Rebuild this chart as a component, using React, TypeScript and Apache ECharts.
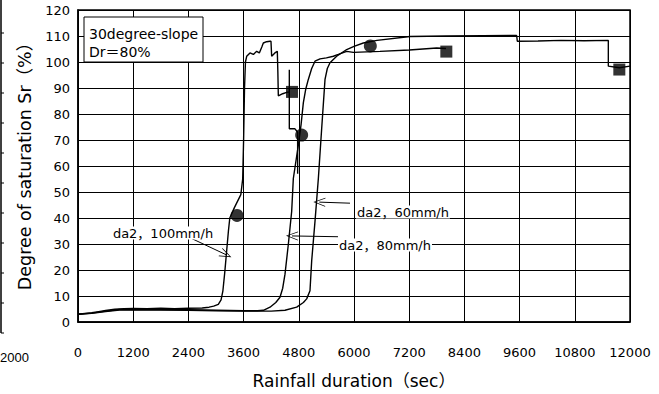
import React, { useEffect, useRef } from "react";
import * as echarts from "echarts";

const FONT = "'DejaVu Sans', 'Noto Sans CJK JP', sans-serif";

const curve100: [number, number][] = [
  [0, 3.0], [150, 3.3], [300, 3.6], [450, 4.0], [600, 4.4], [800, 4.9], [1000, 5.1], [1200, 5.2],
  [1500, 5.1], [1800, 5.3], [2100, 5.1], [2400, 5.3], [2700, 5.4], [2850, 5.7], [2950, 6.1],
  [3050, 6.8], [3110, 8.5], [3150, 12], [3190, 19], [3230, 27], [3270, 35], [3300, 40],
  [3400, 44], [3540, 49], [3580, 55], [3600, 70], [3620, 90], [3640, 100], [3667, 102.2],
  [3739, 103.5], [3812, 102.9], [3884, 104.1], [3942, 103.5], [4000, 106], [4029, 107.3],
  [4100, 107.8], [4174, 108], [4195, 108], [4210, 102.2], [4280, 103.5], [4333, 104.1],
  [4345, 96], [4355, 87], [4450, 87.8], [4536, 88.3], [4594, 88.5], [4594, 97], [4594, 74.3],
  [4717, 74.3], [4775, 73], [4775, 57],
];

const curve80: [number, number][] = [
  [0, 3.0], [300, 3.4], [600, 4.2], [900, 4.8], [1200, 4.9], [1800, 4.8], [2400, 4.7],
  [3000, 4.5], [3600, 4.3], [3900, 4.3], [4030, 4.5], [4174, 5.7], [4300, 7.5], [4391, 9.5],
  [4450, 13], [4500, 18.4], [4572, 29.8], [4645, 42.5], [4681, 55.2], [4790, 68], [4850, 76],
  [4899, 84.4], [4950, 89.5], [5007, 93.3], [5080, 97.5], [5152, 100.3], [5261, 101.2],
  [5400, 101.6], [5551, 102.2], [5659, 102.9], [5841, 104.1], [5985, 103.7], [6565, 104.1],
  [7200, 104.6], [7797, 105.4], [8000, 105.2],
];

const curve60: [number, number][] = [
  [0, 3.0], [300, 3.3], [600, 4.0], [900, 4.6], [1200, 4.7], [1800, 4.6], [2400, 4.5],
  [3000, 4.3], [3600, 4.2], [4200, 4.2], [4500, 4.5], [4754, 5.7], [4900, 7.5], [4971, 8.9],
  [5043, 12], [5080, 23.5], [5152, 38.7], [5225, 55.2], [5297, 74.3], [5370, 93.3],
  [5420, 97.5], [5478, 99.7], [5623, 102.2], [5841, 104.8], [6000, 106], [6203, 107.3],
  [6500, 108.3], [7217, 109.8], [8000, 110], [8800, 110.1], [9536, 110.2], [9550, 108],
  [10000, 108.1], [10500, 108.3], [11000, 108.2], [11529, 108.3], [11529, 98.4],
  [11768, 97.8], [12000, 98.4],
];

const circleMarks: [number, number][] = [[3457, 41], [4862, 71.9], [6355, 106.2]];
const squareMarks: [number, number][] = [[4652, 88.5], [8007, 104], [11768, 97.1]];

// annotation arrows: [from, to] in data coords
const arrows: [[number, number], [number, number]][] = [
  [[2435, 32.4], [3217, 25.9]],
  [[5913, 45.7], [5246, 46.1]],
  [[5652, 32.8], [4652, 33.1]],
];

const CHEVRON = "path://M0,0L6,12L5,12L0,2L-5,12L-6,12Z";

export default function App() {
  const ref = useRef<HTMLDivElement>(null);
  useEffect(() => {
    if (!ref.current) return;
    const chart = echarts.init(ref.current, null, { renderer: "svg" });
    const lineSeries = (name: string, data: [number, number][]) => ({
      name,
      type: "line",
      data,
      showSymbol: false,
      symbol: "none",
      lineStyle: { color: "#000", width: 1.4 },
      z: 3,
    });
    const gridLine = { show: true, lineStyle: { color: "#000", width: 1, opacity: 1, type: "solid" } };
    const leftTicks = [33, 63, 93, 123, 153, 183, 213, 243, 273, 303, 333];
    const option: any = {
      animation: false,
      backgroundColor: "#fff",
      grid: {
        left: 78, right: 29, top: 10, bottom: 69,
        show: true, borderColor: "#000", borderWidth: 1.5, backgroundColor: "transparent",
      },
      xAxis: {
        type: "value", min: 0, max: 12000, interval: 1200,
        axisLine: { show: true, lineStyle: { color: "#000", width: 1.5 } },
        axisTick: { show: false },
        splitLine: gridLine,
        axisLabel: { color: "#000", fontSize: 13, margin: 24, fontFamily: FONT, formatter: (v: number) => String(v) },
        name: "Rainfall duration（sec）",
        nameLocation: "middle",
        nameGap: 50,
        nameTextStyle: { color: "#000", fontSize: 17, fontFamily: FONT },
      },
      yAxis: {
        type: "value", min: 0, max: 120, interval: 10,
        axisLine: { show: true, lineStyle: { color: "#000", width: 1.5 } },
        axisTick: { show: false },
        splitLine: gridLine,
        axisLabel: { color: "#000", fontSize: 13, margin: 8, fontFamily: FONT, formatter: (v: number) => String(v) },
      },
      series: [
        lineSeries("da2, 100mm/h", curve100),
        lineSeries("da2, 80mm/h", curve80),
        {
          ...lineSeries("da2, 60mm/h", curve60),
          markLine: {
            silent: true,
            symbol: ["none", CHEVRON],
            symbolSize: [9, 12],
            label: { show: false },
            lineStyle: { color: "#000", width: 1, type: "solid" },
            data: arrows.map(([a, b]) => [{ coord: a }, { coord: b }]),
          },
        },
        {
          type: "scatter", data: circleMarks, symbol: "circle", symbolSize: 13,
          itemStyle: { color: "#000" }, z: 4,
        },
        {
          type: "scatter", data: squareMarks, symbol: "rect", symbolSize: 12,
          itemStyle: { color: "#000" }, z: 4,
        },
      ],
      graphic: [
        {
          type: "text", x: 25, y: 162, rotation: Math.PI / 2,
          style: { text: "Degree of saturation Sr（%）", fontSize: 17.5, fontFamily: FONT, fill: "#000", align: "center", verticalAlign: "middle" },
        },
        {
          type: "rect", shape: { x: 84, y: 17, width: 119, height: 45 },
          style: { fill: "#fff", stroke: "#000", lineWidth: 1 }, z: 10,
        },
        {
          type: "text", x: 89, y: 34, z: 11,
          style: { text: "30degree-slope", fontSize: 14, fontFamily: FONT, fill: "#000", verticalAlign: "middle" },
        },
        {
          type: "text", x: 89, y: 52, z: 11,
          style: { text: "Dr＝80%", fontSize: 14, fontFamily: FONT, fill: "#000", verticalAlign: "middle" },
        },
        {
          type: "text", x: 163, y: 233, z: 11,
          style: { text: "da2，100mm/h", fontSize: 13, fontFamily: FONT, fill: "#000", align: "center", verticalAlign: "middle", backgroundColor: "#fff", padding: [0, 1] },
        },
        {
          type: "text", x: 356, y: 212, z: 11,
          style: { text: "da2，60mm/h", fontSize: 13, fontFamily: FONT, fill: "#000", verticalAlign: "middle", backgroundColor: "#fff", padding: [0, 1] },
        },
        {
          type: "text", x: 338, y: 245, z: 11,
          style: { text: "da2，80mm/h", fontSize: 13, fontFamily: FONT, fill: "#000", verticalAlign: "middle", backgroundColor: "#fff", padding: [0, 1] },
        },
        {
          type: "line", shape: { x1: 1, y1: 0, x2: 1, y2: 333 },
          style: { stroke: "#000", lineWidth: 1.5 },
        },
        ...leftTicks.map((y) => ({
          type: "line", shape: { x1: 1, y1: y, x2: 4, y2: y },
          style: { stroke: "#000", lineWidth: 1 },
        })),
        {
          type: "text", x: 0, y: 357,
          style: { text: "2000", fontSize: 13, fontFamily: "'Liberation Sans', sans-serif", fill: "#000", align: "left", verticalAlign: "middle" },
        },
      ],
    };
    chart.setOption(option);
    return () => chart.dispose();
  }, []);
  return (
    <div
      ref={ref}
      style={{ position: "fixed", left: 0, top: 0, width: 659, height: 394, background: "#fff" }}
    />
  );
}
